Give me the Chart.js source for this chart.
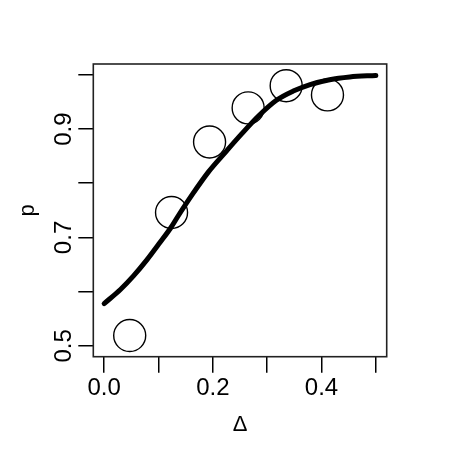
<!DOCTYPE html>
<html>
<head>
<meta charset="utf-8">
<script src="https://cdn.jsdelivr.net/npm/chart.js@4"></script>
<style>
  html, body { margin: 0; padding: 0; background: #fff; }
  #wrap { width: 451px; height: 451px; }
</style>
</head>
<body>
<div id="wrap"><canvas id="c" width="451" height="451"></canvas></div>
<script>
// Observed points (Δ, p)
const pointDelta = [0.047, 0.124, 0.194, 0.265, 0.335, 0.411];
const pointP     = [0.519, 0.746, 0.876, 0.939, 0.980, 0.963];

// Fitted curve
const curveDelta = [0.000, 0.030, 0.054, 0.079, 0.103, 0.122, 0.137, 0.162, 0.192, 0.223, 0.253, 0.284, 0.317, 0.348, 0.379, 0.415, 0.452, 0.500];
const curveP     = [0.578, 0.604, 0.629, 0.659, 0.691, 0.717, 0.741, 0.779, 0.821, 0.857, 0.891, 0.924, 0.953, 0.970, 0.982, 0.991, 0.996, 0.999];

// Axis ticks and labels
const xTicks = [0.0, 0.1, 0.2, 0.3, 0.4, 0.5];
const xTickLabels = ['0.0', '', '0.2', '', '0.4', ''];
const yTicks = [0.5, 0.6, 0.7, 0.8, 0.9, 1.0];
const yTickLabels = ['0.5', '', '0.7', '', '0.9', ''];
const xTitle = 'Δ';
const yTitle = 'p';

const FONT = "'Liberation Sans', Arial, Helvetica, sans-serif";

const rBox = {
  id: 'rBox',
  afterDraw(chart) {
    const {ctx, chartArea: a} = chart;
    ctx.save();
    ctx.strokeStyle = '#222';
    ctx.lineWidth = 1.6;
    ctx.strokeRect(a.left, a.top, a.right - a.left, a.bottom - a.top);
    // rotated y tick labels (R style)
    const ys = chart.scales.y;
    ctx.fillStyle = '#000';
    ctx.font = '24px ' + FONT;
    ctx.textAlign = 'center';
    ctx.textBaseline = 'middle';
    yTicks.forEach((v, i) => {
      if (!yTickLabels[i]) return;
      const py = ys.getPixelForValue(v);
      ctx.save();
      ctx.translate(64, py);
      ctx.rotate(-Math.PI / 2);
      ctx.fillText(yTickLabels[i], 0, 0);
      ctx.restore();
    });
    ctx.restore();
  }
};

new Chart(document.getElementById('c'), {
  type: 'scatter',
  data: {
    datasets: [
      {
        type: 'line',
        data: curveDelta.map((x, i) => ({x, y: curveP[i]})),
        borderColor: '#000',
        borderWidth: 5,
        borderCapStyle: 'round',
        borderJoinStyle: 'round',
        pointRadius: 0,
        cubicInterpolationMode: 'monotone',
        fill: false,
        clip: false
      },
      {
        data: pointDelta.map((x, i) => ({x, y: pointP[i]})),
        pointStyle: 'circle',
        pointRadius: 16,
        pointBorderWidth: 1.4,
        pointBorderColor: '#000',
        pointBackgroundColor: 'rgba(0,0,0,0)',
        clip: false
      }
    ]
  },
  options: {
    responsive: false,
    animation: false,
    devicePixelRatio: 1,
    layout: { padding: { top: 64, right: 64.3, left: 0, bottom: 0 } },
    plugins: { legend: { display: false }, tooltip: { enabled: false } },
    scales: {
      x: {
        type: 'linear',
        min: -0.02, max: 0.52,
        afterBuildTicks: s => { s.ticks = xTicks.map(v => ({value: v})); },
        afterFit: s => { s.height = 94.3; },
        border: { display: false },
        grid: { drawOnChartArea: false, drawTicks: true, tickLength: 16, color: '#000', tickColor: '#000', lineWidth: 1.5 },
        ticks: {
          padding: 1,
          color: '#000',
          font: { family: FONT, size: 24 },
          maxRotation: 0, minRotation: 0, autoSkip: false,
          callback: (v, i) => xTickLabels[i]
        },
        title: {
          display: true, text: xTitle, color: '#000',
          font: { family: FONT, size: 22 },
          padding: { top: 0, bottom: 13.1 }
        }
      },
      y: {
        type: 'linear',
        min: 0.48, max: 1.02,
        afterBuildTicks: s => { s.ticks = yTicks.map(v => ({value: v})); },
        afterFit: s => { s.width = 93.3; },
        border: { display: false },
        grid: { drawOnChartArea: false, drawTicks: true, tickLength: 15, color: '#000', tickColor: '#000', lineWidth: 1.5 },
        ticks: {
          color: '#000',
          font: { family: FONT, size: 24 },
          autoSkip: false,
          callback: () => ''
        },
        title: {
          display: true, text: yTitle, color: '#000',
          font: { family: FONT, size: 22 },
          padding: { top: 14.3, bottom: 0 }
        }
      }
    }
  },
  plugins: [rBox]
});
</script>
</body>
</html>
